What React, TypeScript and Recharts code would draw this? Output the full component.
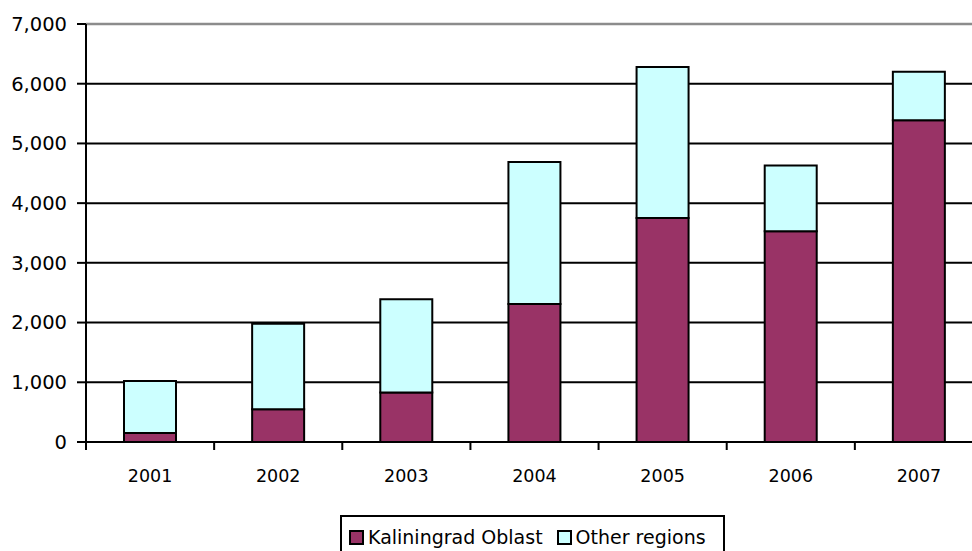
import React from 'react';
import { BarChart, Bar, XAxis, YAxis, CartesianGrid, ReferenceLine, Legend } from 'recharts';

// Years on the category axis
const years = ['2001', '2002', '2003', '2004', '2005', '2006', '2007'];
// Stacked series values
const kaliningradOblast = [150, 550, 830, 2310, 3750, 3530, 5390];
const otherRegions = [870, 1430, 1560, 2380, 2530, 1100, 810];
// Value-axis ticks
const yTicks = [0, 1000, 2000, 3000, 4000, 5000, 6000, 7000];

const seriesNames = ['Kaliningrad Oblast', 'Other regions'];
const seriesColors = ['#993366', '#CCFFFF'];

const data = years.map((year, i) => ({
  year,
  kaliningrad: kaliningradOblast[i],
  other: otherRegions[i],
}));

const FONT = "'DejaVu Sans', Verdana, sans-serif";
const CHART_W = 1000;
const CHART_H = 551;
const Y_AXIS_W = 86;
const MARGIN = { top: 24, right: 17, bottom: 59, left: 0 };
const STEP = (CHART_W - Y_AXIS_W - MARGIN.left - MARGIN.right) / years.length;

// Category tick: divider mark on the left edge of each band, label at band centre
const YearTick = (props: any) => {
  const { x, y, payload } = props;
  const edge = x - STEP / 2;
  return (
    <g>
      <line x1={edge} y1={y} x2={edge} y2={y + 8} stroke="#000" strokeWidth={2} />
      <text
        x={x}
        y={y + 34}
        textAnchor="middle"
        dominantBaseline="central"
        fontFamily={FONT}
        fontSize={17.5}
        fill="#000"
      >
        {payload.value}
      </text>
    </g>
  );
};

const LegendBox = () => (
  <div
    style={{
      border: '2px solid #000',
      background: '#fff',
      width: 385,
      height: 40,
      display: 'flex',
      flexWrap: 'nowrap',
      alignItems: 'flex-start',
      paddingTop: 10,
      paddingLeft: 7,
      boxSizing: 'border-box',
      fontFamily: FONT,
      fontSize: 19,
      color: '#000',
      lineHeight: '20px',
      whiteSpace: 'nowrap',
    }}
  >
    {seriesNames.map((name, i) => (
      <div
        key={name}
        style={{ display: 'flex', alignItems: 'center', marginRight: 14, flexShrink: 0 }}
      >
        <span
          style={{
            display: 'inline-block',
            width: 11,
            height: 11,
            border: '2px solid #000',
            background: seriesColors[i],
            marginRight: 4,
            flexShrink: 0,
          }}
        />
        <span>{name}</span>
      </div>
    ))}
  </div>
);

export default function App() {
  return (
    <div
      style={{
        position: 'fixed',
        left: 0,
        top: 0,
        width: 972,
        height: 551,
        overflow: 'hidden',
        background: '#fff',
      }}
    >
      <BarChart width={CHART_W} height={CHART_H} data={data} margin={MARGIN}>
        <CartesianGrid vertical={false} stroke="#000" strokeWidth={2} />
        <ReferenceLine y={7000} stroke="#8c8c8c" strokeWidth={2.5} />
        <XAxis
          dataKey="year"
          stroke="#000"
          strokeWidth={2}
          tickLine={false}
          tickSize={0}
          tickMargin={0}
          tick={<YearTick />}
          height={50}
          interval={0}
        />
        <YAxis
          width={Y_AXIS_W}
          domain={[0, 7000]}
          ticks={yTicks}
          interval={0}
          stroke="#000"
          strokeWidth={2}
          tickSize={9}
          tickMargin={10}
          tick={{ fill: '#000', fontFamily: FONT, fontSize: 19.5 }}
          tickFormatter={(v: number) => v.toLocaleString('en-US')}
        />
        <Bar
          dataKey="kaliningrad"
          name={seriesNames[0]}
          stackId="a"
          fill={seriesColors[0]}
          stroke="#000"
          strokeWidth={2}
          barSize={52}
          isAnimationActive={false}
        />
        <Bar
          dataKey="other"
          name={seriesNames[1]}
          stackId="a"
          fill={seriesColors[1]}
          stroke="#000"
          strokeWidth={2}
          barSize={52}
          isAnimationActive={false}
        />
        <Legend
          layout="horizontal"
          verticalAlign="middle"
          align="center"
          content={<LegendBox />}
          wrapperStyle={{ left: 340, top: 515, width: 'auto', height: 'auto' }}
        />
      </BarChart>
    </div>
  );
}
